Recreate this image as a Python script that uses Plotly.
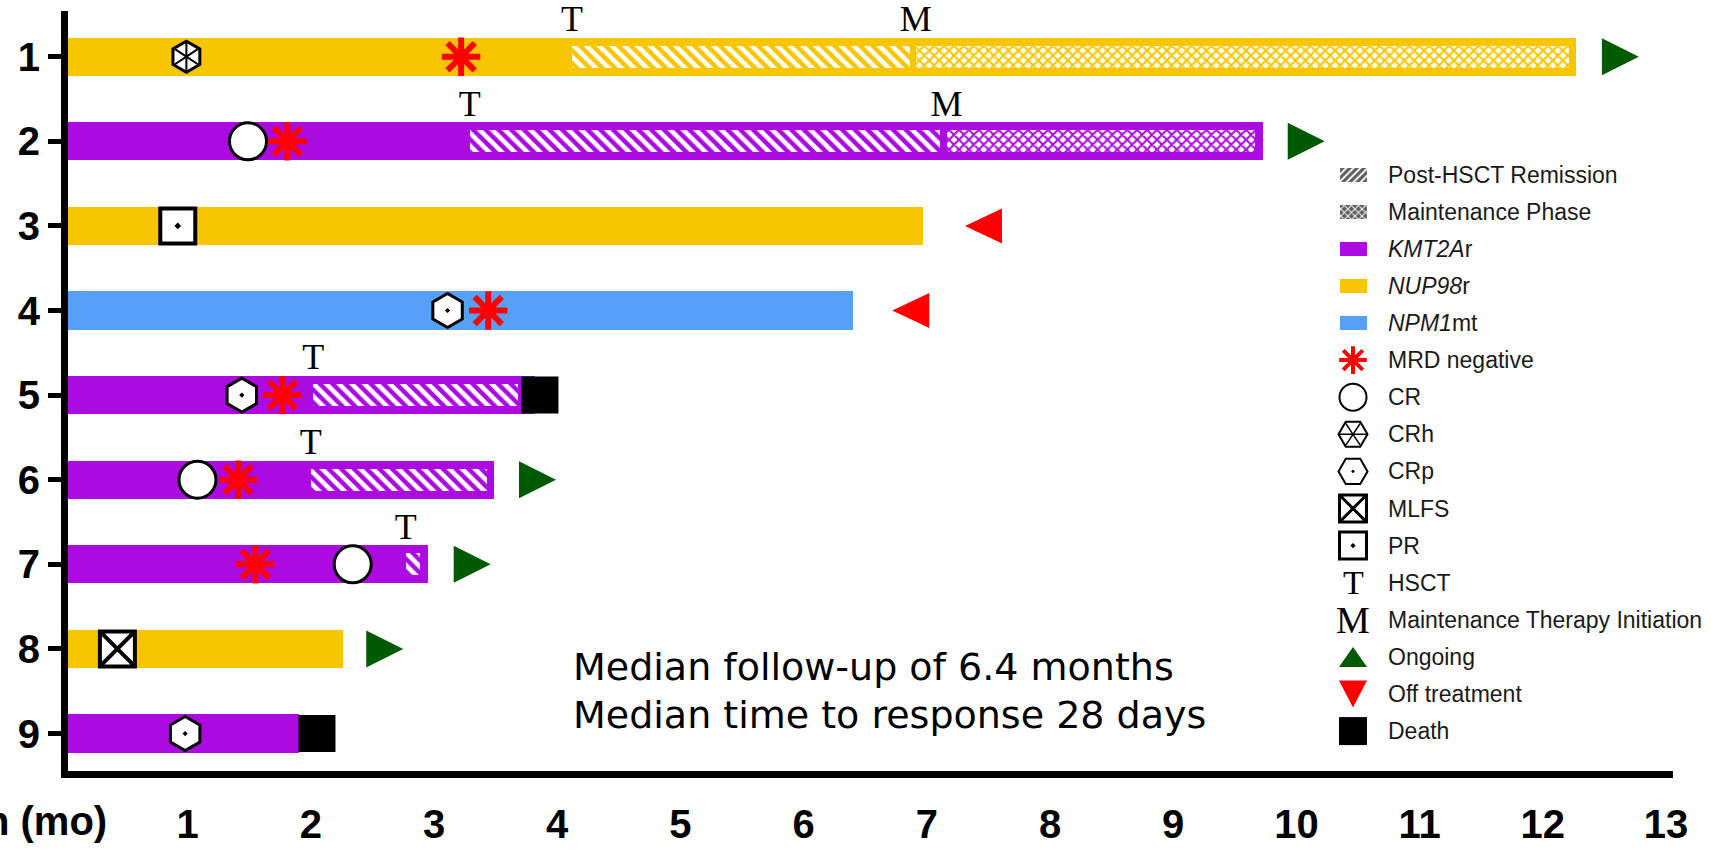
import plotly.graph_objects as go

# ---------------------------------------------------------------- data
patients = [1, 2, 3, 4, 5, 6, 7, 8, 9]
subtype = ["NUP98r", "KMT2Ar", "NUP98r", "NPM1mt", "KMT2Ar",
           "KMT2Ar", "KMT2Ar", "NUP98r", "KMT2Ar"]
on_treatment = [12.27, 9.73, 6.97, 6.40, 3.82, 3.49, 2.95, 2.26, 1.90]  # months

hsct_pts = [1, 2, 5, 6, 7]
hsct_start = [4.12, 3.29, 2.02, 2.00, 2.77]
hsct_end = [6.86, 7.11, 3.68, 3.43, 2.89]

maint_pts = [1, 2]
maint_start = [6.91, 7.16]
maint_end = [12.21, 9.66]

cr_pts, cr_t = [2, 6, 7], [1.49, 1.08, 2.34]
crh_pts, crh_t = [1], [0.99]
crp_pts, crp_t = [4, 5, 9], [3.11, 1.44, 0.98]
mlfs_pts, mlfs_t = [8], [0.43]
pr_pts, pr_t = [3], [0.92]
mrd_pts, mrd_t = [1, 2, 4, 5, 6, 7], [3.22, 1.81, 3.44, 1.77, 1.41, 1.55]
ongoing_pts, ongoing_t = [1, 2, 6, 7, 8], [12.63, 10.08, 3.84, 3.31, 2.60]
offtx_pts, offtx_t = [3, 4], [7.46, 6.87]
death_pts, death_t = [5, 9], [3.86, 2.05]

month_ticks = list(range(1, 14))
x_title = "Duration (mo)"

legend_labels = ["Post-HSCT Remission", "Maintenance Phase", "<i>KMT2A</i>r",
                 "<i>NUP98</i>r", "<i>NPM1</i>mt", "MRD negative", "CR", "CRh",
                 "CRp", "MLFS", "PR", "HSCT", "Maintenance Therapy Initiation",
                 "Ongoing", "Off treatment", "Death"]
notes = ["Median follow-up of 6.4 months", "Median time to response 28 days"]

# ---------------------------------------------------------------- style
COLORS = {"KMT2Ar": "#AB0BE0", "NUP98r": "#F7C600", "NPM1mt": "#56A0FA"}
GRAY = "#5f5f5f"
GREEN = "#005A00"
RED = "#FF0000"
TICK_FONT = dict(family="Liberation Sans Narrow, Arial Narrow, Liberation Sans",
                 size=40, color="black", weight="bold")
SERIF = "Liberation Serif, Times New Roman, serif"

W, H = 1711, 849
ML, MR, MT, MB = 68, 38, 11, 78
PX_L, PX_R, PX_T, PX_B = ML, W - MR, MT, H - MB  # plot area in page pixels
X_RANGE = [0.029, 13.057]
Y_RANGE = [9.443, 0.460]
PX_PER_MONTH = (PX_R - PX_L) / (X_RANGE[1] - X_RANGE[0])
PX_PER_ROW = (PX_B - PX_T) / (Y_RANGE[0] - Y_RANGE[1])

BAR_W = 0.45
PHASE_W = 0.26
LABEL_LIFT = 0.41
TRI_PX = 37  # status triangle width/height in pixels


def row_color(p):
    return COLORS[subtype[patients.index(p)]]


fig = go.Figure()

# treatment bars, one trace per subtype
for name in ["KMT2Ar", "NUP98r", "NPM1mt"]:
    idx = [i for i, s in enumerate(subtype) if s == name]
    fig.add_trace(go.Bar(
        orientation="h", y=[patients[i] for i in idx],
        x=[on_treatment[i] for i in idx], base=0, width=BAR_W,
        marker=dict(color=COLORS[name], line=dict(width=0)),
        showlegend=False, hoverinfo="skip"))

# post-HSCT remission (diagonal hatch) and maintenance phase (cross hatch)
for p, s, e in zip(hsct_pts, hsct_start, hsct_end):
    c = row_color(p)
    fig.add_trace(go.Bar(
        orientation="h", y=[p], base=[s], x=[e - s], width=PHASE_W,
        marker=dict(color=c, line=dict(width=0),
                    pattern=dict(shape="\\", fgcolor="white", bgcolor=c,
                                 size=9, solidity=0.5, fillmode="replace")),
        showlegend=False, hoverinfo="skip"))
for p, s, e in zip(maint_pts, maint_start, maint_end):
    c = row_color(p)
    fig.add_trace(go.Bar(
        orientation="h", y=[p], base=[s], x=[e - s], width=PHASE_W,
        marker=dict(color="white", line=dict(width=0),
                    pattern=dict(shape="x", fgcolor=c, bgcolor="white",
                                 size=7, solidity=0.5, fillmode="replace")),
        showlegend=False, hoverinfo="skip"))


def marker_trace(x, y, symbol, size, color, lcolor, lwidth, xaxis="x", yaxis="y"):
    return go.Scatter(x=x, y=y, mode="markers", xaxis=xaxis, yaxis=yaxis,
                      marker=dict(symbol=symbol, size=size, color=color,
                                  line=dict(color=lcolor, width=lwidth)),
                      showlegend=False, hoverinfo="skip", cliponaxis=False)


def triangle_trace(xs, ys, direction, w, h, color, xaxis="x", yaxis="y"):
    """Filled triangles centred on (x, y); w, h in axis units."""
    px, py = [], []
    for x, y in zip(xs, ys):
        if direction == "right":
            vx = [x - w / 2, x + w / 2, x - w / 2]
            vy = [y - h / 2, y, y + h / 2]
        elif direction == "left":
            vx = [x + w / 2, x - w / 2, x + w / 2]
            vy = [y - h / 2, y, y + h / 2]
        elif direction == "up":      # y axis in pixels, increasing downwards
            vx = [x - w / 2, x, x + w / 2]
            vy = [y + h / 2, y - h / 2, y + h / 2]
        else:                        # down
            vx = [x - w / 2, x, x + w / 2]
            vy = [y - h / 2, y + h / 2, y - h / 2]
        px += vx + [vx[0], None]
        py += vy + [vy[0], None]
    return go.Scatter(x=px, y=py, mode="lines", fill="toself", fillcolor=color,
                      line=dict(width=0, color=color), xaxis=xaxis, yaxis=yaxis,
                      showlegend=False, hoverinfo="skip")


# response / status markers
fig.add_trace(marker_trace(crh_t, crh_pts, "hexagon", 31, "white", "black", 3))
fig.add_trace(marker_trace(crh_t, crh_pts, "y-up-open", 19, "black", "black", 2))
fig.add_trace(marker_trace(crh_t, crh_pts, "y-down-open", 19, "black", "black", 2))
fig.add_trace(marker_trace(cr_t, cr_pts, "circle", 37, "white", "black", 3))
fig.add_trace(marker_trace(crp_t, crp_pts, "hexagon-dot", 34, "white", "black", 3))
fig.add_trace(marker_trace(pr_t, pr_pts, "square-dot", 35, "white", "black", 4))
fig.add_trace(marker_trace(mlfs_t, mlfs_pts, "square-x", 35, "white", "black", 4))
fig.add_trace(marker_trace(mrd_t, mrd_pts, "asterisk-open", 32, RED, RED, 6))
fig.add_trace(triangle_trace(ongoing_t, ongoing_pts, "right",
                             TRI_PX / PX_PER_MONTH, TRI_PX / PX_PER_ROW, GREEN))
fig.add_trace(triangle_trace(offtx_t, offtx_pts, "left",
                             TRI_PX / PX_PER_MONTH, 35 / PX_PER_ROW, RED))
fig.add_trace(marker_trace(death_t, death_pts, "square", 37, "black", "black", 0))

# HSCT and maintenance-initiation labels above the bars
fig.add_trace(go.Scatter(
    x=hsct_start + maint_start,
    y=[p - LABEL_LIFT for p in hsct_pts + maint_pts],
    text=["T"] * len(hsct_pts) + ["M"] * len(maint_pts),
    mode="text", textposition="middle center",
    textfont=dict(family=SERIF, size=36, color="black"),
    showlegend=False, hoverinfo="skip", cliponaxis=False))

# ---------------------------------------------------------------- key
LEG_SYM_X, LEG_TXT_X = 1353, 1386
LEG_Y0, LEG_DY = 174.6, 37.1
leg_y = [LEG_Y0 + i * LEG_DY for i in range(len(legend_labels))]

sw_col = [GRAY, GRAY, COLORS["KMT2Ar"], COLORS["NUP98r"], COLORS["NPM1mt"]]
sw_pat = ["/", "x", "", "", ""]
for y, c, pat in zip(leg_y[:5], sw_col, sw_pat):
    fig.add_trace(go.Bar(
        orientation="h", y=[y], x=[27], base=[LEG_SYM_X - 13.5],
        width=14, xaxis="x2", yaxis="y2",
        marker=dict(color=c, line=dict(width=0),
                    pattern=dict(shape=pat, fgcolor="white", bgcolor=c,
                                 size=5, solidity=0.35, fillmode="replace")),
        showlegend=False, hoverinfo="skip"))

leg_marks = [
    (5, "asterisk-open", 23, RED, RED, 4),
    (6, "circle", 27, "white", "black", 2),
    (7, "hexagon2", 29, "white", "black", 2),
    (7, "y-left-open", 18, "black", "black", 1.5),
    (7, "y-right-open", 18, "black", "black", 1.5),
    (8, "hexagon2-dot", 29, "white", "black", 2),
    (9, "square-x", 27, "white", "black", 3),
    (10, "square-dot", 27, "white", "black", 3),
    (15, "square", 28, "black", "black", 0),
]
for i, sym, size, col, lcol, lw in leg_marks:
    fig.add_trace(marker_trace([LEG_SYM_X], [leg_y[i]], sym, size, col, lcol, lw,
                               xaxis="x2", yaxis="y2"))
fig.add_trace(triangle_trace([LEG_SYM_X], [leg_y[13]], "up", 28, 20, GREEN,
                             xaxis="x2", yaxis="y2"))
fig.add_trace(triangle_trace([LEG_SYM_X], [leg_y[14]], "down", 28, 27, RED,
                             xaxis="x2", yaxis="y2"))

annotations = []
for y, lab in zip(leg_y, legend_labels):
    annotations.append(dict(
        x=LEG_TXT_X, y=y, xref="x2", yref="y2", text=lab, showarrow=False,
        xanchor="left", yanchor="middle",
        font=dict(family="Liberation Sans, Arial", size=23, color="#1a1a1a")))
for i, glyph, fs in [(11, "T", 34), (12, "M", 38)]:
    annotations.append(dict(
        x=LEG_SYM_X, y=leg_y[i], xref="x2", yref="y2", text=glyph, showarrow=False,
        xanchor="center", yanchor="middle",
        font=dict(family=SERIF, size=fs, color="black")))

for y, note in zip([667, 715], notes):
    annotations.append(dict(
        x=571, y=y, xref="x2", yref="y2", text=note, showarrow=False,
        xanchor="left", yanchor="middle",
        font=dict(family="DejaVu Sans", size=38, color="black")))

annotations.append(dict(
    x=(109 - PX_L) / (PX_R - PX_L), y=(PX_B - 821) / (PX_B - PX_T),
    xref="paper", yref="paper", text=x_title, showarrow=False,
    xanchor="right", yanchor="middle", font=TICK_FONT))

# ---------------------------------------------------------------- layout
fig.update_layout(
    width=W, height=H,
    margin=dict(l=ML, r=MR, t=MT, b=MB, pad=0, autoexpand=False),
    paper_bgcolor="white", plot_bgcolor="white",
    barmode="overlay", bargap=0,
    annotations=annotations,
    xaxis=dict(range=X_RANGE, tickvals=month_ticks,
               ticktext=[str(m) for m in month_ticks],
               showline=True, linewidth=7, linecolor="black",
               ticks="", showgrid=False, zeroline=False, automargin=False,
               tickfont=TICK_FONT, ticklabelstandoff=12, fixedrange=True),
    yaxis=dict(range=Y_RANGE, tickvals=patients,
               ticktext=[str(p) for p in patients],
               showline=True, linewidth=7, linecolor="black",
               ticks="outside", ticklen=13, tickwidth=5, tickcolor="black",
               showgrid=False, zeroline=False, tickfont=TICK_FONT,
               automargin=False, ticklabelstandoff=0, fixedrange=True),
    xaxis2=dict(range=[PX_L, PX_R], overlaying="x", anchor="y2",
                visible=False, fixedrange=True),
    yaxis2=dict(range=[PX_B, PX_T], overlaying="y", anchor="x2",
                visible=False, fixedrange=True),
)

fig.write_html("out.html")
